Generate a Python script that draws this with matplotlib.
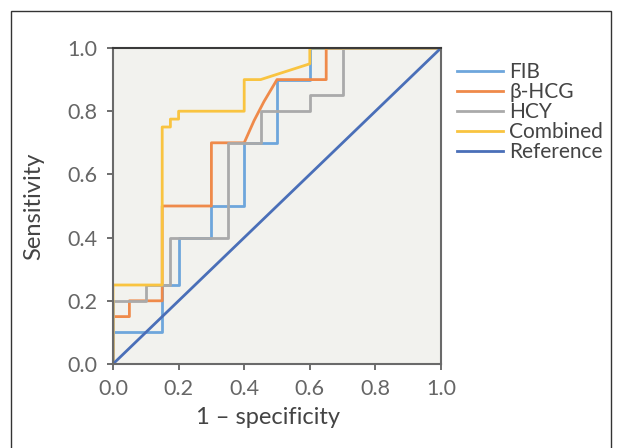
import matplotlib.pyplot as plt
from matplotlib.patches import Rectangle

# ROC curve points (1 - specificity, sensitivity)
fib_x = [0, 0, 0.15, 0.15, 0.2, 0.2, 0.3, 0.3, 0.4, 0.4, 0.5, 0.5, 0.6, 0.6, 1.0]
fib_y = [0, 0.1, 0.1, 0.25, 0.25, 0.4, 0.4, 0.5, 0.5, 0.7, 0.7, 0.9, 0.9, 1.0, 1.0]

hcg_x = [0, 0, 0.05, 0.05, 0.15, 0.15, 0.3, 0.3, 0.4, 0.43, 0.46, 0.5, 0.65, 0.65, 1.0]
hcg_y = [0, 0.15, 0.15, 0.2, 0.2, 0.5, 0.5, 0.7, 0.7, 0.77, 0.83, 0.9, 0.9, 1.0, 1.0]

hcy_x = [0, 0, 0.1, 0.1, 0.175, 0.175, 0.35, 0.35, 0.45, 0.45, 0.6, 0.6, 0.7, 0.7, 1.0]
hcy_y = [0, 0.2, 0.2, 0.25, 0.25, 0.4, 0.4, 0.7, 0.7, 0.8, 0.8, 0.85, 0.85, 1.0, 1.0]

comb_x = [0, 0, 0.15, 0.15, 0.175, 0.175, 0.2, 0.2, 0.4, 0.4, 0.45, 0.6, 0.6, 1.0]
comb_y = [0, 0.25, 0.25, 0.75, 0.75, 0.775, 0.775, 0.8, 0.8, 0.9, 0.9, 0.95, 1.0, 1.0]

ref_x = [0, 1]
ref_y = [0, 1]

ticks = [0.0, 0.2, 0.4, 0.6, 0.8, 1.0]
tick_labels = ['0.0', '0.2', '0.4', '0.6', '0.8', '1.0']

plt.rcParams['font.family'] = ['Lato', 'DejaVu Sans']

fig = plt.figure(figsize=(6.18, 4.48), dpi=100)
ax = fig.add_axes([113 / 618, 1 - 364 / 448, 328 / 618, 316 / 448])
ax.set_facecolor('#f2f2ee')

# marco exterior (el borde inferior queda fuera de la imagen)
marco = Rectangle((11 / 618, -0.1), 600 / 618, 437 / 448 + 0.1, transform=fig.transFigure,
                  fill=False, edgecolor='#333333', linewidth=1.0, clip_on=False)
fig.patches.append(marco)

lw = 2.0
ax.plot(fib_x, fib_y, color='#6ea6dc', lw=lw, label='FIB')
ax.plot(hcg_x, hcg_y, color='#ef8a4a', lw=lw, label='β-HCG')
ax.plot(hcy_x, hcy_y, color='#aaaaaa', lw=lw, label='HCY')
ax.plot(comb_x, comb_y, color='#f9c440', lw=lw, label='Combined')
ax.plot(ref_x, ref_y, color='#4a6fb8', lw=lw, label='Reference')

ax.set_xlim(0, 1)
ax.set_ylim(0, 1)
ax.set_xticks(ticks)
ax.set_xticklabels(tick_labels)
ax.set_yticks(ticks)
ax.set_yticklabels(tick_labels)

for side in ['left', 'right', 'bottom']:
    ax.spines[side].set_color('#6a6a6a')
    ax.spines[side].set_linewidth(1.5)
ax.spines['top'].set_color('#3a3a3a')
ax.spines['top'].set_linewidth(1.5)

ax.tick_params(axis='both', direction='out', length=4, width=1.2, color='#555555',
               labelsize=15.5, labelcolor='#666666', pad=7)

ax.set_ylabel('Sensitivity', fontsize=17, color='#444444')
ax.yaxis.set_label_coords(-0.21, 0.5)
ax.set_xlabel('1 – specificity', fontsize=17, color='#444444')
ax.xaxis.set_label_coords(0.473, -0.135)

ax.legend(loc='upper left', bbox_to_anchor=(1.05, 0.955), frameon=False,
          fontsize=15, handlelength=2.2, handletextpad=0.3, labelspacing=0.0,
          borderaxespad=0, borderpad=0, labelcolor='#444444')

plt.savefig('out.png', dpi=100)
